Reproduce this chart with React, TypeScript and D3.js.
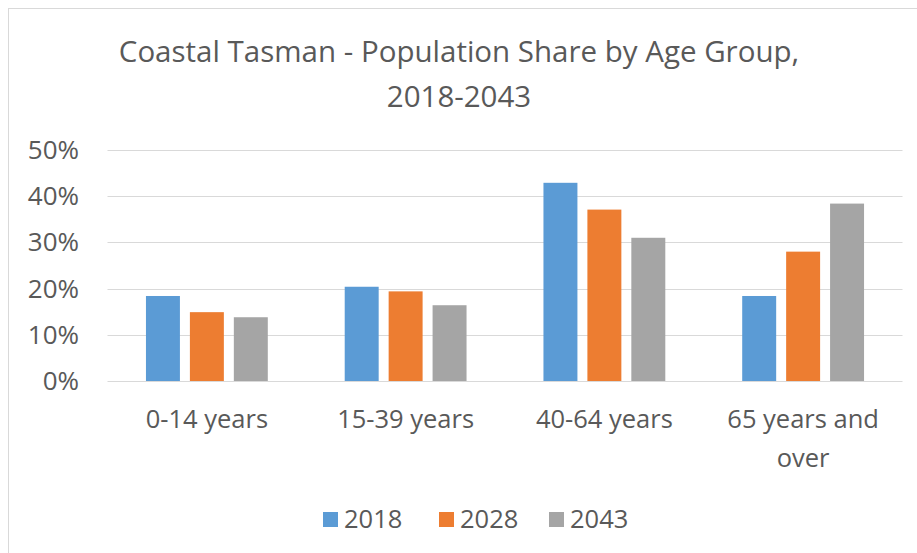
import React from "react";
import * as d3 from "d3";

const categories = ["0-14 years", "15-39 years", "40-64 years", "65 years and over"];
const categoryLines = [["0-14 years"], ["15-39 years"], ["40-64 years"], ["65 years and", "over"]];
const series = ["2018", "2028", "2043"];
const values2018 = [0.184, 0.204, 0.429, 0.184];
const values2028 = [0.149, 0.194, 0.371, 0.28];
const values2043 = [0.138, 0.164, 0.31, 0.384];
const seriesColors = ["#5B9BD5", "#ED7D31", "#A5A5A5"];
const yTicks = [0, 0.1, 0.2, 0.3, 0.4, 0.5];
const titleLines = ["Coastal Tasman - Population Share by Age Group,", "2018-2043"];

const FONT = "'Open Sans', 'Liberation Sans', sans-serif";

export default function App() {
  const W = 917, H = 553;
  const seriesValues = [values2018, values2028, values2043];
  const y = d3.scaleLinear().domain([0, 0.5]).range([381, 150]);
  const x = d3.scaleBand<string>().domain(categories).range([107.5, 902.5]).paddingInner(0.387).paddingOuter(0.1935);
  const xs = d3.scaleBand<string>().domain(series).range([0, x.bandwidth()]).paddingInner(0.227).paddingOuter(0);
  const fmt = d3.format(".0%");

  const legendX = [323, 439, 549];

  return (
    <svg width={W} height={H} style={{ position: "absolute", left: 0, top: 0, background: "#fff" }} fontFamily={FONT}>
      <rect x={0} y={0} width={W} height={H} fill="#fff" />
      <rect x={8.5} y={8.5} width={W + 20} height={H + 20} fill="none" stroke="#D9D9D9" strokeWidth={1} />
      {titleLines.map((t, i) => (
        <text key={t} x={459} y={62 + i * 45} textAnchor="middle" fontSize={29.5} fill="#595959">{t}</text>
      ))}
      {yTicks.map((t) => (
        <g key={t}>
          <line x1={107.5} x2={902.5} y1={Math.round(y(t)) + 0.5} y2={Math.round(y(t)) + 0.5} stroke="#D9D9D9" strokeWidth={1} />
          <text x={79} y={y(t) + 9} textAnchor="end" fontSize={26} fill="#595959">{fmt(t)}</text>
        </g>
      ))}
      {categories.map((c, ci) => (
        <g key={c}>
          {series.map((s, si) => {
            const v = seriesValues[si][ci];
            return (
              <rect key={s} x={(x(c) ?? 0) + (xs(s) ?? 0)} y={y(v)} width={xs.bandwidth()} height={y(0) - y(v)} fill={seriesColors[si]} />
            );
          })}
          {categoryLines[ci].map((line, li) => (
            <text key={line} x={(x(c) ?? 0) + x.bandwidth() / 2} y={428 + li * 39} textAnchor="middle" fontSize={25.5} fill="#595959">{line}</text>
          ))}
        </g>
      ))}
      {series.map((s, si) => (
        <g key={s}>
          <rect x={legendX[si]} y={512} width={15} height={15} fill={seriesColors[si]} />
          <text x={legendX[si] + 21} y={528} fontSize={25.5} fill="#595959">{s}</text>
        </g>
      ))}
    </svg>
  );
}
